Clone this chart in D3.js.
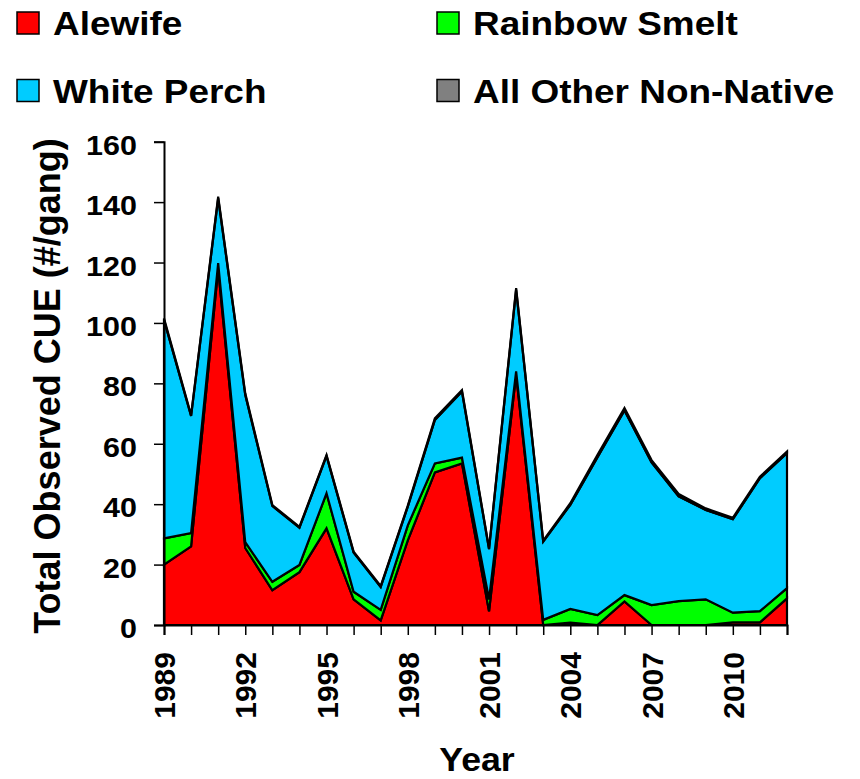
<!DOCTYPE html>
<html>
<head>
<meta charset="utf-8">
<script src="https://cdn.jsdelivr.net/npm/d3@7"></script>
<style>
html,body{margin:0;padding:0;background:#fff;}
svg{display:block;}
text{font-family:"Liberation Sans",Arial,Helvetica,sans-serif;font-weight:bold;fill:#000;}
</style>
</head>
<body>
<svg id="chart" width="860" height="779"></svg>
<script>
const years = [1989,1990,1991,1992,1993,1994,1995,1996,1997,1998,1999,2000,2001,2002,2003,2004,2005,2006,2007,2008,2009,2010,2011,2012];
const alewife = [20, 26, 118, 25.5, 11.5, 17.5, 32, 8.5, 1.5, 28, 50.5, 53.5, 4.5, 83, 0, 0.8, 0, 7.8, 0, 0, 0, 0.9, 0.9, 8.8];
const rainbowSmelt = [8.7, 4.4, 1.8, 1.9, 2.8, 2.4, 11.6, 2.5, 3.5, 5, 3, 1.9, 4, 1, 1.7, 4.5, 3.3, 2.1, 6.6, 7.9, 8.5, 3.2, 3.7, 3.4];
const whitePerch = [72.3, 38.8, 21.5, 48.8, 25.1, 12.3, 12.4, 13, 7.6, 6.2, 14.4, 21.9, 16.6, 27, 25.9, 34.5, 52.2, 61.1, 47.2, 34.7, 29.6, 30.9, 44, 44.7];
const otherNonNative = [0.5, 0.3, 0.5, 0.5, 0.3, 0.3, 0.3, 0.3, 0.3, 0.3, 0.5, 0.5, 0.3, 0.5, 0.3, 0.5, 0.8, 0.8, 0.8, 0.8, 0.5, 0.5, 0.5, 0.5];
const seriesNames = ["Alewife","Rainbow Smelt","White Perch","All Other Non-Native"];
const seriesColors = ["#FF0000","#00FF00","#00CCFF","#808080"];
const yTicks = [0,20,40,60,80,100,120,140,160];
const xLabelYears = [1989,1992,1995,1998,2001,2004,2007,2010];

const keys = ["alewife","smelt","perch","other"];
const rows = years.map((y,i)=>({year:y, alewife:alewife[i], smelt:rainbowSmelt[i], perch:whitePerch[i], other:otherNonNative[i]}));
const stacked = d3.stack().keys(keys)(rows);

const svg = d3.select("#chart");
const x = d3.scaleLinear().domain([1989,2012]).range([164,787]);
const y = d3.scaleLinear().domain([0,160]).range([625,141.7]);

const area = d3.area()
  .x(d=>x(d.data.year))
  .y0(d=>y(d[0]))
  .y1(d=>y(d[1]));

svg.append("g").selectAll("path")
  .data(stacked)
  .join("path")
  .attr("d", area)
  .attr("fill", (d,i)=>seriesColors[i])
  .attr("stroke","#000")
  .attr("stroke-width",2.2)
  .attr("stroke-linejoin","miter");

// Y axis
const yAxis = svg.append("g").attr("transform","translate(164,0)")
  .call(d3.axisLeft(y).tickValues(yTicks).tickSize(10).tickFormat(""));
yAxis.select(".domain").attr("stroke","#000").attr("stroke-width",2);
yAxis.selectAll(".tick line").attr("stroke","#000").attr("stroke-width",1.5);

// X axis
const xAxis = svg.append("g").attr("transform","translate(0,625)")
  .call(d3.axisBottom(x).tickValues(years).tickSize(10).tickFormat(""));
xAxis.select(".domain").attr("stroke","#000").attr("stroke-width",2);
xAxis.selectAll(".tick line").attr("stroke","#000").attr("stroke-width",1.5);

// Y tick labels
svg.append("g").selectAll("text")
  .data(yTicks)
  .join("text")
  .attr("transform", d=>`translate(137,${y(d)+13}) scale(1.13,1)`)
  .attr("text-anchor","end")
  .style("font-size","27px")
  .text(d=>d);

// X tick labels
svg.append("g").selectAll("text")
  .data(xLabelYears)
  .join("text")
  .attr("transform", d=>`translate(${x(d)+11},652) rotate(-90)`)
  .attr("text-anchor","end")
  .style("font-size","30px")
  .text(d=>d);

// Axis titles
svg.append("text")
  .attr("transform","translate(60,386) rotate(-90)")
  .attr("text-anchor","middle")
  .style("font-size","36px")
  .text("Total Observed CUE (#/gang)");

svg.append("text")
  .attr("transform","translate(477,771) scale(1.05,1)")
  .attr("text-anchor","middle")
  .style("font-size","34px")
  .text("Year");

// Legend
const legendPos = [[17,12],[437,12],[17,79.5],[437,79.5]];
const legendOrder = [0,1,2,3];
const lg = svg.append("g");
legendOrder.forEach((si,k)=>{
  const [lx,ly] = legendPos[k];
  lg.append("rect").attr("x",lx).attr("y",ly).attr("width",22).attr("height",22)
    .attr("fill",seriesColors[si]).attr("stroke","#000").attr("stroke-width",1.5);
  lg.append("text")
    .attr("transform",`translate(${lx+36},${ly+23}) scale(1.12,1)`)
    .style("font-size","33px")
    .text(seriesNames[si]);
});
</script>
</body>
</html>
